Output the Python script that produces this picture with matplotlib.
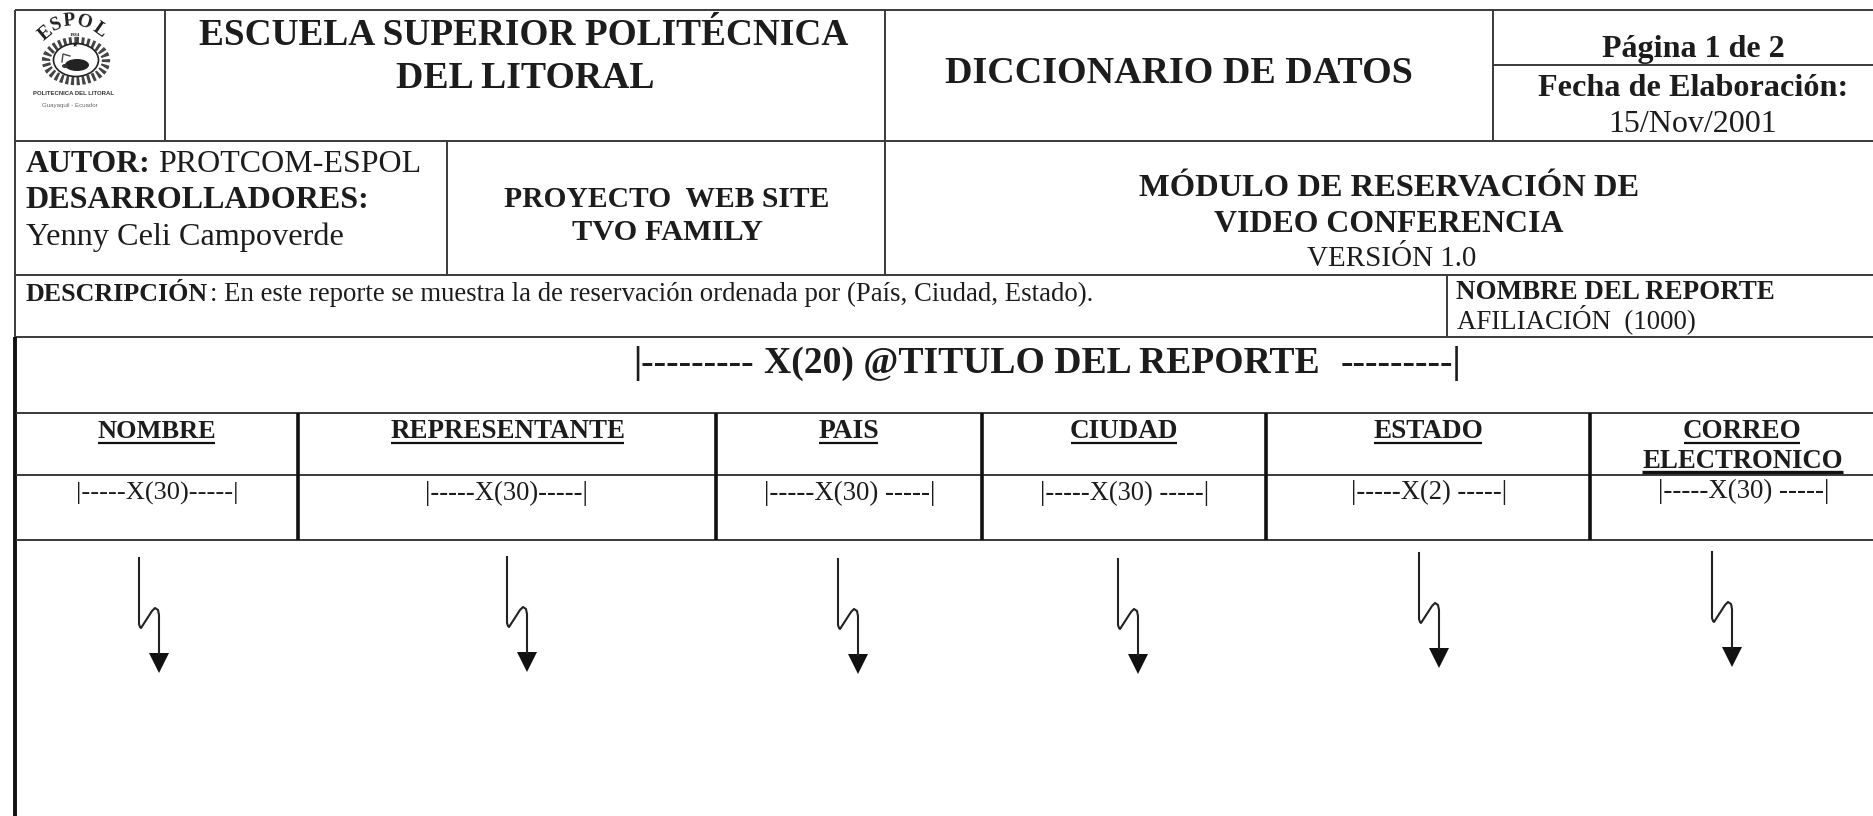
import matplotlib
matplotlib.use("Agg")
import matplotlib.pyplot as plt
from matplotlib.font_manager import FontProperties
from matplotlib.patches import Ellipse, Polygon
from matplotlib.textpath import TextPath

# ---- content ----
INSTITUTION = ["ESCUELA SUPERIOR POLITÉCNICA", "DEL LITORAL"]
DOCUMENT = "DICCIONARIO DE DATOS"
PAGE = "Página 1 de 2"
DATE_LABEL = "Fecha de Elaboración:"
DATE_VALUE = "15/Nov/2001"
AUTHOR = ["AUTOR:", "PROTCOM-ESPOL", "DESARROLLADORES:", "Yenny Celi Campoverde"]
PROJECT = ["PROYECTO  WEB SITE", "TVO FAMILY"]
MODULE = ["MÓDULO DE RESERVACIÓN DE", "VIDEO CONFERENCIA", "VERSIÓN 1.0"]
DESCRIPTION = ["DESCRIPCIÓN", ": En este reporte se muestra la de reservación ordenada por (País, Ciudad, Estado)."]
REPORT = ["NOMBRE DEL REPORTE", "AFILIACIÓN  (1000)"]
REPORT_TITLE = ["|---------", "X(20) @TITULO DEL REPORTE", "---------|"]
COLUMNS = ["NOMBRE", "REPRESENTANTE", "PAIS", "CIUDAD", "ESTADO", "CORREO"]
COLUMN_EXTRA = "ELECTRONICO"
FORMATS = ["|-----X(30)-----|", "|-----X(30)-----|", "|-----X(30) -----|",
           "|-----X(30) -----|", "|-----X(2) -----|", "|-----X(30) -----|"]

# ---- layout (pixels) ----
W, H = 1873, 816
INK = "#1c1c1c"
LINE = "#3a3a3a"
FAM = "Liberation Serif"

fig = plt.figure(figsize=(W / 100, H / 100), dpi=100, facecolor="white")
ax = fig.add_axes([0, 0, 1, 1])
ax.set_xlim(0, W)
ax.set_ylim(H, 0)
ax.axis("off")


def fit(s, x0, x1, base, bold=False, color=INK, family=FAM):
    fp = FontProperties(family=family, weight="bold" if bold else "normal")
    ext = TextPath((0, 0), s, size=100, prop=fp).get_extents()
    size_pt = 100 * (x1 - x0) / ext.width * 0.72
    ax.text(x0 - ext.x0 * size_pt / 72, base, s, fontsize=size_pt, family=family,
            weight="bold" if bold else "normal", color=color, ha="left", va="baseline")


def hl(y, x0, x1=W, lw=1.4, c=LINE):
    ax.plot([x0, x1], [y, y], color=c, lw=lw, solid_capstyle="butt")


def vl(x, y0, y1, lw=1.4, c=LINE):
    ax.plot([x, x], [y0, y1], color=c, lw=lw, solid_capstyle="butt")


# ---- rules ----
LEFT = 15
hl(10, LEFT)
hl(141, LEFT)
hl(275, LEFT)
hl(337, LEFT)
hl(65, 1493)
vl(LEFT, 10, 337)
vl(165, 10, 141)
vl(885, 10, 275)
vl(1493, 10, 141)
vl(447.5, 141, 275)
vl(1447, 275, 337)
vl(15.5, 337, H, lw=2.8, c="#111111")
hl(413, 16)
hl(475, 16)
hl(540, 16)
for x in (298.5, 716, 982, 1266, 1590):
    vl(x, 413, 540, lw=2.6, c="#111111")

# ---- header text ----
fit(INSTITUTION[0], 200, 849, 45, True)
fit(INSTITUTION[1], 397, 653, 88, True)
fit(DOCUMENT, 946, 1411, 83, True)
fit(PAGE, 1603, 1784, 57, True)
fit(DATE_LABEL, 1539, 1846, 96, True)
fit(DATE_VALUE, 1611, 1775, 132)
fit(AUTHOR[0], 26, 148, 172, True)
fit(AUTHOR[1], 159, 419, 172)
fit(AUTHOR[2], 26, 366, 208, True)
fit(AUTHOR[3], 26, 342, 245)
fit(PROJECT[0], 505, 828, 207, True)
fit(PROJECT[1], 572, 762, 240, True)
fit(MODULE[0], 1140, 1637, 196, True)
fit(MODULE[1], 1214, 1563, 232, True)
fit(MODULE[2], 1307, 1475, 266)
fit(DESCRIPTION[0], 26, 207, 301, True)
fit(DESCRIPTION[1], 212, 1092, 301)
fit(REPORT[0], 1457, 1774, 299, True)
fit(REPORT[1], 1457, 1695, 328)
fit(REPORT_TITLE[0], 636, 752, 373, True)
fit(REPORT_TITLE[1], 765, 1318, 373, True)
fit(REPORT_TITLE[2], 1342, 1458, 373, True)

# ---- table ----
HEAD_EXT = [(98, 215), (391, 624), (819, 878), (1071, 1177), (1374, 1482), (1684, 1800)]
for name, (a, b) in zip(COLUMNS, HEAD_EXT):
    fit(name, a, b, 438, True)
    hl(443, a, b, lw=1.6, c="#111111")
fit(COLUMN_EXTRA, 1643, 1842, 468, True)
hl(472, 1642, 1843, lw=2.4, c="#111111")

FMT_EXT = [(78, 236), (427, 586), (766, 932), (1042, 1207), (1353, 1505), (1660, 1826)]
FMT_BASE = [500, 500, 500, 500, 499, 498]
for s, (a, b), base in zip(FORMATS, FMT_EXT, FMT_BASE):
    fit(s, a, b, base)

# ---- flow arrows ----
ARROW_X = [139, 507, 838, 1118, 1419, 1712]
ARROW_TOP = [558, 557, 559, 559, 553, 552]
for x, top in zip(ARROW_X, ARROW_TOP):
    r = x + 20
    ax.plot([x, x, x + 1, x + 2, x + 13, x + 16, x + 19, r, r],
            [top, top + 66, top + 69, top + 70, top + 53, top + 50, top + 52, top + 57, top + 96],
            color="#222222", lw=1.5, solid_joinstyle="round")
    ax.add_patch(Polygon([[r - 10, top + 95], [r + 10, top + 95], [r, top + 115]],
                         closed=True, fc="#111111", ec="none"))

# ---- logo ----
ax.add_patch(Ellipse((76, 61), 60, 40, fc="none", ec="#444444", lw=6, ls=(0, (0.35, 0.3))))
ax.add_patch(Ellipse((76, 60), 45, 33, fc="white", ec="#222222", lw=1.2))
ax.add_patch(Ellipse((77, 65), 24, 12, fc="#222222", ec="none"))
ax.add_patch(Ellipse((65, 66), 6, 4, fc="#333333", ec="none"))
ax.plot([62, 63, 70], [62, 54, 56], color="#444444", lw=1)
ax.text(75, 45, "★", fontsize=5, family="DejaVu Sans", color="#222222", ha="center", va="center")
ax.text(75, 35, "1984", fontsize=3.8, family=FAM, weight="bold", color="#333333", ha="center", va="center")
LOGO_LETTERS = [("E", 46, 33, 40), ("S", 56, 25, 22), ("P", 69, 21, 5), ("O", 85, 23, -15), ("L", 100, 30, -35)]
for ch, lx, ly, rot in LOGO_LETTERS:
    ax.text(lx, ly, ch, fontsize=14, family=FAM, weight="bold", color="#222222",
            ha="center", va="center", rotation=rot)
fit("POLITECNICA DEL LITORAL", 33, 115, 95, True, "#333333", "Liberation Sans")
fit("Guayaquil - Ecuador", 42, 98, 107, False, "#666666", "Liberation Sans")

fig.savefig("out.png", dpi=100, facecolor="white")
